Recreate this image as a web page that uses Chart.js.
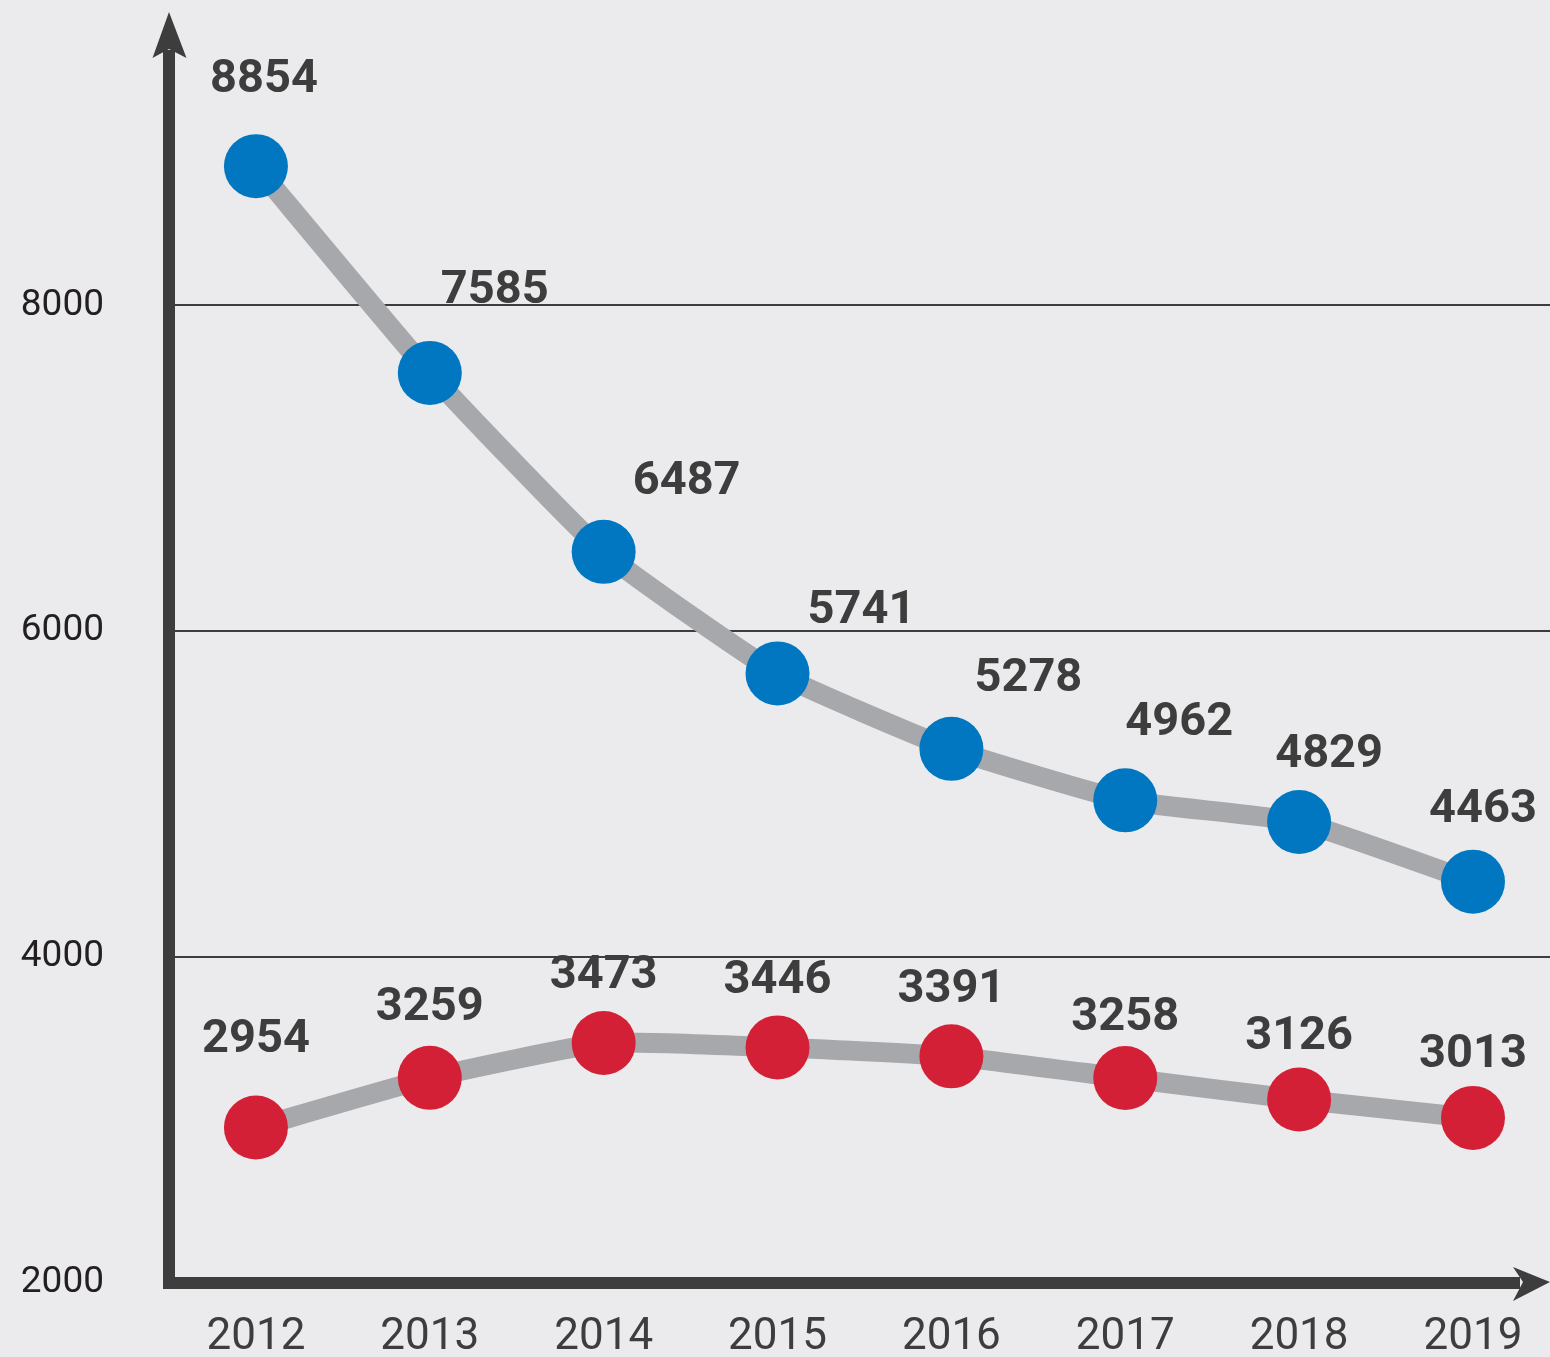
<!DOCTYPE html>
<html><head><meta charset="utf-8">
<script src="https://cdn.jsdelivr.net/npm/chart.js@4/dist/chart.umd.min.js"></script>
<style>html,body{margin:0;padding:0;background:#ebebed;}canvas{display:block;}</style>
</head><body>
<canvas id="c" width="1550" height="1357"></canvas>
<script>
const years = ['2012','2013','2014','2015','2016','2017','2018','2019'];
const blueValues = [8854,7585,6487,5741,5278,4962,4829,4463];
const redValues = [2954,3259,3473,3446,3391,3258,3126,3013];
const yTicks = [2000,4000,6000,8000];

// label placement (styling): offsets from point centre to label centre
const blueLabelDx = [8,65,83,84,77,54,30,10];
const blueLabelDy = [-91,-87,-75,-67,-75,-82,-72,-77];
const redLabelDx  = [0,0,0,0,0,0,0,0];
const redLabelDy  = [-93,-75,-72,-71,-71,-65,-68,-68];

const AXIS = '#3d3d3d';
const BLUE = '#0077c0';
const RED = '#d32036';
const LINE = '#a7a8ab';

const axesPlugin = {
  id: 'axes',
  beforeDatasetsDraw(chart) {
    const {ctx, chartArea: a} = chart;
    ctx.save();
    ctx.fillStyle = AXIS;
    // y axis line
    ctx.fillRect(a.left - 6, a.top + 38, 12, a.bottom + 6 - (a.top + 38));
    // y arrow
    ctx.beginPath();
    ctx.moveTo(a.left, a.top);
    ctx.lineTo(a.left + 17.5, a.top + 46);
    ctx.lineTo(a.left, a.top + 37);
    ctx.lineTo(a.left - 16.5, a.top + 46);
    ctx.closePath();
    ctx.fill();
    // x axis line
    ctx.fillRect(a.left - 6, a.bottom - 6, a.right - 30 - (a.left - 6), 12);
    // x arrow
    ctx.beginPath();
    ctx.moveTo(a.right, a.bottom - 1);
    ctx.lineTo(a.right - 37, a.bottom - 16);
    ctx.lineTo(a.right - 27, a.bottom - 1);
    ctx.lineTo(a.right - 37, a.bottom + 18);
    ctx.closePath();
    ctx.fill();
    ctx.restore();
  },
  afterDatasetsDraw(chart) {
    const {ctx} = chart;
    ctx.save();
    ctx.font = 'bold 47px Roboto';
    ctx.fillStyle = AXIS;
    ctx.textAlign = 'center';
    ctx.textBaseline = 'alphabetic';
    const sets = [[0, blueLabelDx, blueLabelDy], [1, redLabelDx, redLabelDy]];
    sets.forEach(([di, dx, dy]) => {
      const meta = chart.getDatasetMeta(di);
      const vals = chart.data.datasets[di].data;
      meta.data.forEach((pt, i) => {
        ctx.fillText(String(vals[i].y), pt.x + dx[i], pt.y + dy[i] + 17);
      });
    });
    ctx.restore();
  }
};

new Chart(document.getElementById('c'), {
  type: 'line',
  data: {
    datasets: [
      {
        data: blueValues.map((v, i) => ({x: i, y: v})),
        borderColor: LINE, borderWidth: 20, tension: 0.15,
        pointRadius: 32, pointBackgroundColor: BLUE, pointBorderWidth: 0,
        pointHoverRadius: 32, clip: false
      },
      {
        data: redValues.map((v, i) => ({x: i, y: v})),
        borderColor: LINE, borderWidth: 20, tension: 0.15,
        pointRadius: 32, pointBackgroundColor: RED, pointBorderWidth: 0,
        pointHoverRadius: 32, clip: false
      }
    ]
  },
  options: {
    responsive: false,
    animation: false,
    events: [],
    layout: {autoPadding: false, padding: {top: 12, right: 0, left: 0, bottom: 0}},
    plugins: {legend: {display: false}, tooltip: {enabled: false}},
    scales: {
      x: {
        type: 'linear',
        min: -0.5, max: 7.443,
        afterBuildTicks(s) { s.ticks = years.map((y, i) => ({value: i})); },
        afterFit(s) { s.height = 74; s.paddingLeft = 0; s.paddingRight = 0; },
        grid: {display: false, drawTicks: false},
        border: {display: false},
        ticks: {
          callback: (v) => years[v],
          autoSkip: false, maxRotation: 0, padding: 29,
          color: AXIS, font: {family: 'Roboto', size: 44, weight: 'normal'}
        }
      },
      y: {
        type: 'linear',
        min: 2000, max: 9800,
        afterBuildTicks(s) { s.ticks = yTicks.map(v => ({value: v})); },
        afterFit(s) { s.width = 169; s.paddingTop = 0; s.paddingBottom = 0; },
        grid: {
          drawTicks: false,
          color: (c) => c.tick && c.tick.value === 2000 ? 'rgba(0,0,0,0)' : AXIS,
          lineWidth: 2
        },
        border: {display: false},
        ticks: {
          callback: (v) => String(v),
          padding: 65,
          color: '#231f20', font: {family: 'Roboto', size: 37, weight: 'normal'}
        }
      }
    }
  },
  plugins: [axesPlugin]
});
</script>
</body></html>
